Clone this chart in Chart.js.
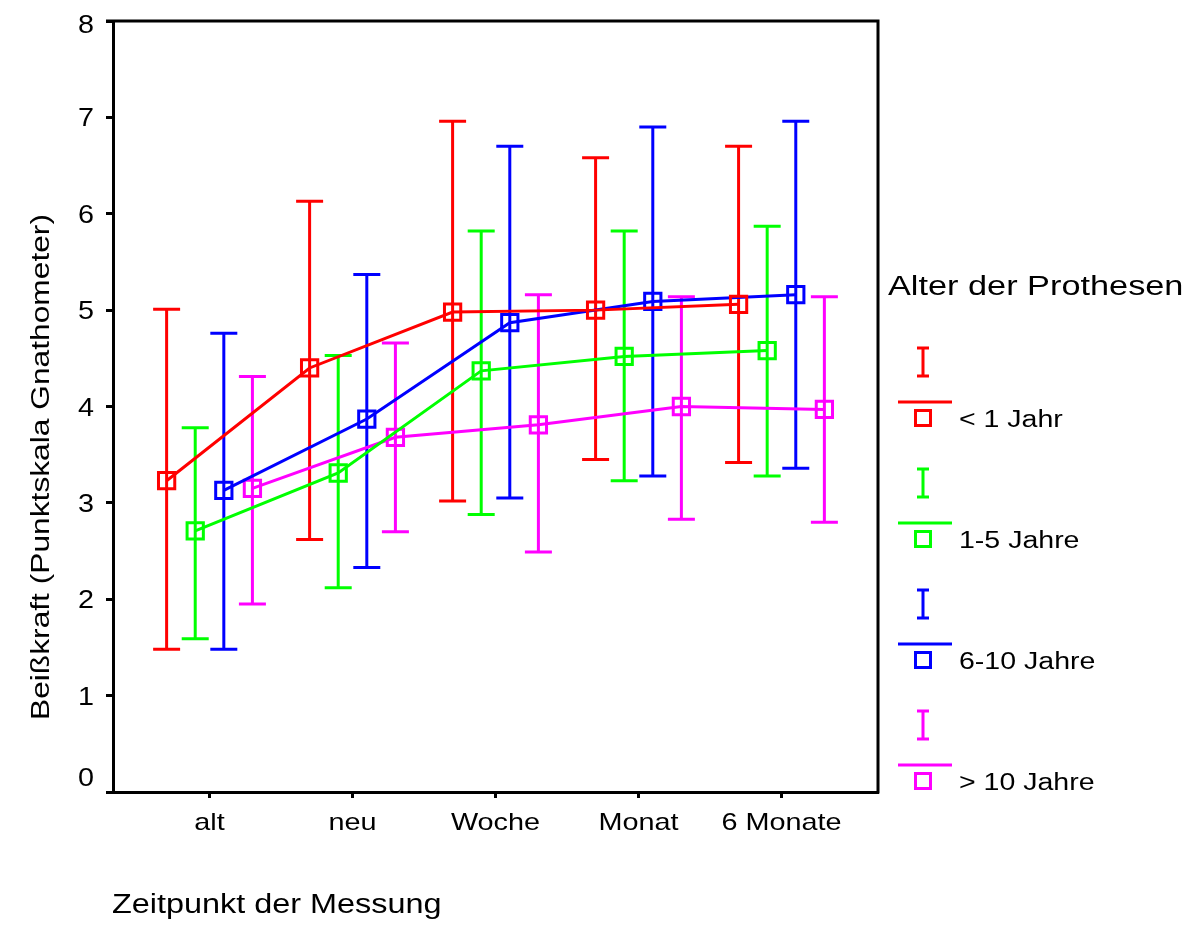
<!DOCTYPE html>
<html>
<head>
<meta charset="utf-8">
<title>Beißkraft</title>
<script src="https://cdn.jsdelivr.net/npm/chart.js@4/dist/chart.umd.min.js"></script>
<style>
  html, body { margin: 0; padding: 0; background: #fff; }
  #wrap { position: relative; width: 1196px; height: 925px; }
</style>
</head>
<body>
<div id="wrap"><canvas id="chart" width="1196" height="925"></canvas></div>
<script>
// Measurement times
const categories = ['alt', 'neu', 'Woche', 'Monat', '6 Monate'];
const yTicks = [0, 1, 2, 3, 4, 5, 6, 7, 8];

// Age groups of the dentures
const groupNames = ['< 1 Jahr', '1-5 Jahre', '6-10 Jahre', '> 10 Jahre'];
const groupColors = ['#FF0000', '#00FF00', '#0000FF', '#FF00FF'];

// Means and interval bounds per group
const meanLt1  = [3.23, 4.40, 4.98, 5.00, 5.06];
const lowLt1   = [1.48, 2.62, 3.02, 3.45, 3.42];
const highLt1  = [5.01, 6.13, 6.96, 6.58, 6.70];

const mean1to5 = [2.71, 3.31, 4.37, 4.52, 4.58];
const low1to5  = [1.59, 2.12, 2.88, 3.23, 3.28];
const high1to5 = [3.78, 4.53, 5.82, 5.82, 5.87];

const mean6to10 = [3.13, 3.87, 4.87, 5.09, 5.16];
const low6to10  = [1.48, 2.33, 3.05, 3.28, 3.36];
const high6to10 = [4.76, 5.37, 6.70, 6.90, 6.96];

const meanGt10 = [3.15, 3.68, 3.81, 4.00, 3.97];
const lowGt10  = [1.95, 2.70, 2.49, 2.83, 2.80];
const highGt10 = [4.31, 4.66, 5.16, 5.14, 5.14];

const groupMeans = [meanLt1, mean1to5, mean6to10, meanGt10];
const groupLows  = [lowLt1, low1to5, low6to10, lowGt10];
const groupHighs = [highLt1, high1to5, high6to10, highGt10];

// Horizontal shift of each group within a category (in category units)
const groupShift = [-0.3, -0.1, 0.1, 0.3];

const FONT = "'Liberation Sans', Arial, sans-serif";

const datasets = groupNames.map((name, g) => ({
  label: name,
  data: groupMeans[g].map((v, i) => ({ x: i + 1 + groupShift[g], y: v, lo: groupLows[g][i], hi: groupHighs[g][i] })),
  borderColor: groupColors[g],
  borderWidth: 3,
  backgroundColor: 'transparent',
  pointStyle: 'rect',
  pointRadius: 11.5,
  pointBorderWidth: 3,
  pointBackgroundColor: 'rgba(0,0,0,0)',
  pointBorderColor: groupColors[g],
  tension: 0,
  fill: false
}));

// Text drawn with a horizontal stretch (wide sans lettering)
function wideText(ctx, text, x, y, size, sx, align) {
  ctx.save();
  ctx.font = size + 'px ' + FONT;
  const w = ctx.measureText(text).width * sx;
  let left = x;
  if (align === 'center') left = x - w / 2;
  else if (align === 'right') left = x - w;
  ctx.translate(left, y);
  ctx.scale(sx, 1);
  ctx.textAlign = 'left';
  ctx.fillText(text, 0, 0);
  ctx.restore();
}

// Vertical interval bars with end caps
const errorBars = {
  id: 'errorBars',
  beforeDatasetsDraw(chart) {
    const ctx = chart.ctx, xs = chart.scales.x, ys = chart.scales.y;
    ctx.save();
    ctx.lineWidth = 3;
    chart.data.datasets.forEach(ds => {
      ctx.strokeStyle = ds.borderColor;
      ds.data.forEach(p => {
        const x = xs.getPixelForValue(p.x);
        const y1 = ys.getPixelForValue(p.lo), y2 = ys.getPixelForValue(p.hi);
        ctx.beginPath();
        ctx.moveTo(x, y1); ctx.lineTo(x, y2);
        ctx.moveTo(x - 13.5, y1); ctx.lineTo(x + 13.5, y1);
        ctx.moveTo(x - 13.5, y2); ctx.lineTo(x + 13.5, y2);
        ctx.stroke();
      });
    });
    ctx.restore();
  }
};

// Frame, tick labels, axis titles and legend
const decorations = {
  id: 'decorations',
  afterDraw(chart) {
    const ctx = chart.ctx, a = chart.chartArea, xs = chart.scales.x, ys = chart.scales.y;
    ctx.save();
    ctx.strokeStyle = '#000';
    ctx.lineWidth = 3;
    ctx.beginPath();
    ctx.moveTo(a.left - 7, a.top); ctx.lineTo(a.right, a.top); ctx.lineTo(a.right, a.bottom + 1.5);
    ctx.stroke();

    ctx.fillStyle = '#000';
    ctx.textBaseline = 'alphabetic';

    // category labels under the x ticks
    xs.ticks.forEach(t => {
      wideText(ctx, categories[t.value - 1], xs.getPixelForValue(t.value), 830, 24, 1.2, 'center');
    });
    // value labels left of the y ticks (the zero label sits above the x axis line)
    ys.ticks.forEach(t => {
      let y = ys.getPixelForValue(t.value) + 9;
      if (t.value === yTicks[0]) y -= 15;
      if (t.value === yTicks[yTicks.length - 1]) y += 3;
      wideText(ctx, String(t.value), 94, y, 25, 1.15, 'right');
    });

    wideText(ctx, 'Zeitpunkt der Messung', 112, 913, 27, 1.2, 'left');

    ctx.save();
    ctx.translate(49, 720);
    ctx.rotate(-Math.PI / 2);
    wideText(ctx, 'Beißkraft (Punktskala Gnathometer)', 0, 0, 26, 1.22, 'left');
    ctx.restore();

    wideText(ctx, 'Alter der Prothesen', 888, 295, 27, 1.27, 'left');

    chart.data.datasets.forEach((ds, g) => {
      const dy = g * 121;
      ctx.strokeStyle = ds.borderColor;
      ctx.lineWidth = 3;
      ctx.beginPath();
      ctx.moveTo(923, 347 + dy); ctx.lineTo(923, 377 + dy);
      ctx.moveTo(917, 348 + dy); ctx.lineTo(929, 348 + dy);
      ctx.moveTo(917, 376 + dy); ctx.lineTo(929, 376 + dy);
      ctx.moveTo(898, 402 + dy); ctx.lineTo(952, 402 + dy);
      ctx.stroke();
      ctx.strokeRect(915.5, 410.5 + dy, 15, 15);
      ctx.fillStyle = '#000';
      wideText(ctx, ds.label, 959, 427 + dy, 23, 1.24, 'left');
    });
    ctx.restore();
  }
};

new Chart(document.getElementById('chart'), {
  type: 'line',
  data: { datasets },
  plugins: [errorBars, decorations],
  options: {
    responsive: false,
    animation: false,
    events: [],
    layout: { padding: { top: 21, right: 318, left: 0, bottom: 0 } },
    plugins: { legend: { display: false }, tooltip: { enabled: false } },
    scales: {
      x: {
        type: 'linear',
        min: 0.325,
        max: 5.675,
        afterBuildTicks: s => { s.ticks = categories.map((c, i) => ({ value: i + 1 })); },
        afterFit: s => { s.height = 133; },
        ticks: { display: false, autoSkip: false },
        grid: { drawOnChartArea: false, drawTicks: true, tickLength: 6, tickWidth: 3, tickColor: '#000' },
        border: { display: true, color: '#000', width: 3 }
      },
      y: {
        min: 0,
        max: 8,
        afterBuildTicks: s => { s.ticks = yTicks.map(v => ({ value: v })); },
        afterFit: s => { s.width = 113; },
        ticks: { display: false },
        grid: { drawOnChartArea: false, drawTicks: true, tickLength: 7, tickWidth: 3, tickColor: '#000' },
        border: { display: true, color: '#000', width: 3 }
      }
    }
  }
});
</script>
</body>
</html>
